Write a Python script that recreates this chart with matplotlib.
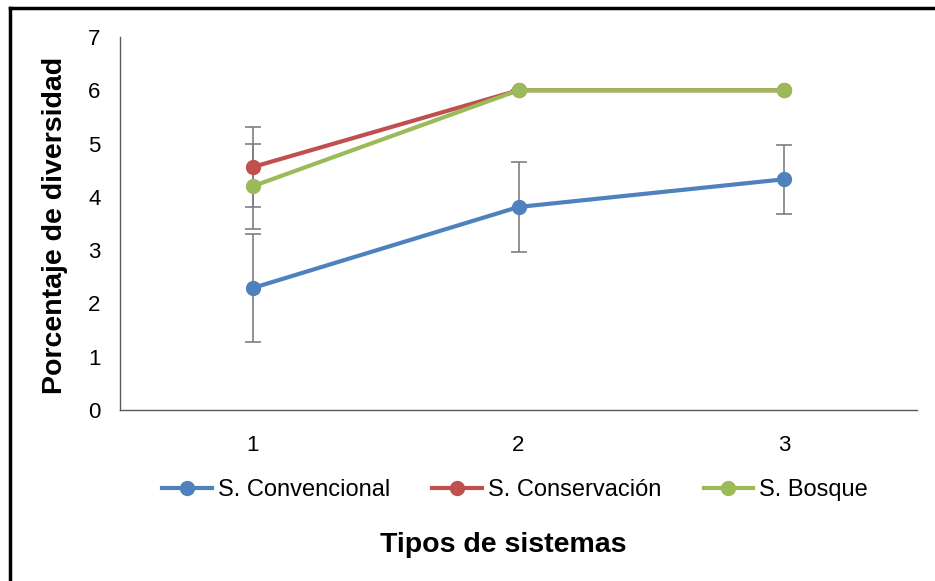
import matplotlib.pyplot as plt
from matplotlib.lines import Line2D

plt.rcParams['font.family'] = ['Liberation Sans', 'DejaVu Sans']

x = [1, 2, 3]
convencional = [2.29, 3.81, 4.33]
convencional_err = [1.02, 0.85, 0.65]
conservacion = [4.56, 6.0, 6.0]
conservacion_err = [0.75, 0, 0]
bosque = [4.2, 6.0, 6.0]
bosque_err = [0.8, 0, 0]

series = [
    ("S. Convencional", convencional, convencional_err, "#4F81BD"),
    ("S. Conservación", conservacion, conservacion_err, "#C0504D"),
    ("S. Bosque", bosque, bosque_err, "#9BBB59"),
]

fig = plt.figure(figsize=(9.35, 5.81), dpi=100)
ax = fig.add_axes([120/935, 1-410/581, 797/935, 373/581])

for name, vals, err, col in series:
    ax.errorbar(x, vals, yerr=err, fmt="none", ecolor="#7f7f7f", elinewidth=1.2,
                capsize=6, capthick=1.2, zorder=2)
for name, vals, err, col in series:
    ax.plot(x, vals, color=col, lw=3, marker="o", ms=10, label=name, zorder=3)

ax.set_xlim(0.5, 3.5)
ax.set_ylim(0, 7)
ax.set_xticks([1, 2, 3])
ax.set_yticks(range(8))
ax.tick_params(length=0, labelsize=16, pad=14)
ax.tick_params(axis="x", pad=18)
for s in ["top", "right"]:
    ax.spines[s].set_visible(False)
for s in ["left", "bottom"]:
    ax.spines[s].set_color("#595959")
    ax.spines[s].set_linewidth(1)

fig.text(55/935, 1-225/581, "Porcentaje de diversidad", fontsize=20.5, fontweight="bold",
         ha="center", va="center", rotation=90)
fig.text(503/935, 1-545/581, "Tipos de sistemas", fontsize=20.5, fontweight="bold",
         ha="center", va="center")

fig.legend(loc="center", bbox_to_anchor=(515/935, 1-490/581), ncol=3, frameon=False,
           fontsize=17, handlelength=2.1, columnspacing=1.8, handletextpad=0.25)

# black frame around the picture (left and top edges only visible)
fig.add_artist(Line2D([10/935, 10/935], [0, 1-8/581], transform=fig.transFigure,
                      color="black", lw=2.5))
fig.add_artist(Line2D([10/935, 1], [1-8/581, 1-8/581], transform=fig.transFigure,
                      color="black", lw=2.5))

plt.savefig("out.png", dpi=100)
